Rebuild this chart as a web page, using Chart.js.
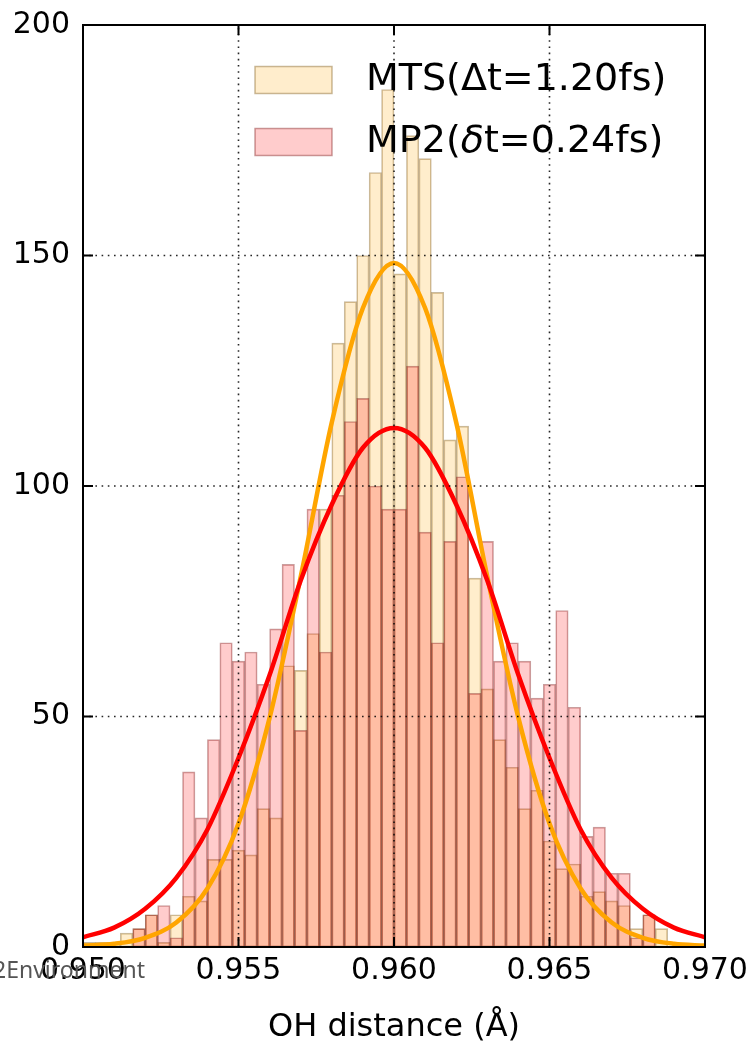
<!DOCTYPE html>
<html>
<head>
<meta charset="utf-8">
<script src="https://cdn.jsdelivr.net/npm/chart.js@4.4.0/dist/chart.umd.min.js"></script>
<style>
html,body{margin:0;padding:0;background:#fff;}
#wrap{position:relative;width:746px;height:1045px;overflow:hidden;background:#fff;}
#env{position:absolute;left:-7px;top:958px;font-family:"Noto Sans",sans-serif;font-size:23px;line-height:23px;color:#555;white-space:nowrap;}
</style>
</head>
<body>
<div id="wrap">
<canvas id="c" width="746" height="1045"></canvas>
<div id="env">2Environment</div>
</div>
<script>
// ---- data ----
const binCenters = [
  0.9502, 0.9506, 0.9510, 0.9514, 0.9518, 0.9522, 0.9526, 0.9530, 0.9534, 0.9538,
  0.9542, 0.9546, 0.9550, 0.9554, 0.9558, 0.9562, 0.9566, 0.9570, 0.9574, 0.9578,
  0.9582, 0.9586, 0.9590, 0.9594, 0.9598, 0.9602, 0.9606, 0.9610, 0.9614, 0.9618,
  0.9622, 0.9626, 0.9630, 0.9634, 0.9638, 0.9642, 0.9646, 0.9650, 0.9654, 0.9658,
  0.9662, 0.9666, 0.9670, 0.9674, 0.9678, 0.9682, 0.9686, 0.9690, 0.9694, 0.9698
];
const mtsCounts = [
  1, 1, 1, 3, 4, 7, 1, 7, 11, 10,
  19, 19, 21, 20, 30, 28, 61, 60, 68, 95,
  131, 140, 150, 168, 186, 146, 176, 171, 142, 110,
  113, 80, 56, 45, 39, 30, 34, 23, 17, 18,
  11, 12, 10, 9, 4, 7, 4, 0, 0, 0
];
const mp2Counts = [
  0, 0, 0, 0, 4, 7, 9, 2, 38, 28,
  45, 66, 62, 64, 57, 69, 83, 47, 95, 64,
  98, 114, 119, 100, 95, 95, 126, 90, 66, 88,
  102, 55, 88, 62, 66, 62, 54, 57, 73, 52,
  24, 26, 16, 16, 2, 7, 0, 0, 0, 0
];
const curveX = [0.950, 0.951, 0.952, 0.953, 0.954, 0.955, 0.956, 0.957, 0.958, 0.959, 0.960,
                0.961, 0.962, 0.963, 0.964, 0.965, 0.966, 0.967, 0.968, 0.969, 0.970];
const mtsFit = [0.3, 0.7, 2.0, 5.3, 12.7, 26.8, 49.7, 80.3, 113.8, 138.6, 148.4,
                138.6, 113.8, 80.3, 49.7, 26.8, 12.7, 5.3, 2.0, 0.7, 0.3];
const mp2Fit = [2.1, 4.2, 8.3, 15.0, 25.5, 41.0, 59.0, 79.5, 96.0, 108.3, 112.6,
                108.3, 96.0, 79.5, 59.0, 41.0, 25.5, 15.0, 8.3, 4.2, 2.1];
const xTickValues = [0.950, 0.955, 0.960, 0.965, 0.970];
const xTickLabels = ['0.950', '0.955', '0.960', '0.965', '0.970'];
const yTickValues = [0, 50, 100, 150, 200];
const yTickLabels = ['0', '50', '100', '150', '200'];
const seriesLabels = ['MTS(\u0394t=1.20fs)', 'MP2(\u03b4t=0.24fs)'];
const xTitle = 'OH distance (\u00c5)';

// ---- styles ----
const FONT = '"DejaVu Sans", sans-serif';
const mtsFill = 'rgba(255,165,0,0.2)';
const mp2Fill = 'rgba(255,0,0,0.2)';
const mtsEdge = 'rgba(113,74,0,0.38)';
const mp2Edge = 'rgba(113,0,0,0.38)';

const decor = {
  id: 'decor',
  afterDatasetsDraw(chart) {
    const {ctx, chartArea: a, scales: {x, y}} = chart;
    ctx.save();
    // dotted grid (drawn above data, like matplotlib classic)
    ctx.strokeStyle = 'rgba(0,0,0,0.85)';
    ctx.lineWidth = 1.6;
    ctx.setLineDash([1.6, 4.6]);
    xTickValues.forEach(v => {
      const px = x.getPixelForValue(v);
      if (px <= a.left + 1 || px >= a.right - 1) return;
      ctx.beginPath(); ctx.moveTo(px, a.bottom); ctx.lineTo(px, a.top); ctx.stroke();
    });
    yTickValues.forEach(v => {
      const py = y.getPixelForValue(v);
      if (py <= a.top + 1 || py >= a.bottom - 1) return;
      ctx.beginPath(); ctx.moveTo(a.left, py); ctx.lineTo(a.right, py); ctx.stroke();
    });
    ctx.setLineDash([]);
    // frame
    ctx.strokeStyle = '#000';
    ctx.lineWidth = 2;
    ctx.strokeRect(a.left, a.top, a.right - a.left, a.bottom - a.top);
    // inward ticks
    const tl = 10;
    xTickValues.forEach(v => {
      const px = x.getPixelForValue(v);
      ctx.beginPath();
      ctx.moveTo(px, a.bottom); ctx.lineTo(px, a.bottom - tl);
      ctx.moveTo(px, a.top); ctx.lineTo(px, a.top + tl);
      ctx.stroke();
    });
    yTickValues.forEach(v => {
      const py = y.getPixelForValue(v);
      ctx.beginPath();
      ctx.moveTo(a.left, py); ctx.lineTo(a.left + tl, py);
      ctx.moveTo(a.right, py); ctx.lineTo(a.right - tl, py);
      ctx.stroke();
    });
    // legend (no frame), upper right
    const items = [
      {label: chart.data.datasets[2].label, fill: mtsFill, edge: mtsEdge},
      {label: chart.data.datasets[3].label, fill: mp2Fill, edge: mp2Edge}
    ];
    const boxL = 255, boxW = 77, boxH = 27, textL = 366;
    const rowY = [80, 142];
    items.forEach((it, i) => {
      const cy = rowY[i];
      ctx.fillStyle = it.fill;
      ctx.fillRect(boxL, cy - boxH / 2, boxW, boxH);
      ctx.strokeStyle = it.edge;
      ctx.lineWidth = 1.5;
      ctx.strokeRect(boxL, cy - boxH / 2, boxW, boxH);
      ctx.fillStyle = '#000';
      ctx.textBaseline = 'middle';
      ctx.textAlign = 'left';
      let tx = textL;
      for (const ch of it.label) {
        const italic = /[\u03b1-\u03c9]/.test(ch);
        ctx.font = (italic ? 'italic ' : '') + '38px ' + FONT;
        ctx.fillText(ch, tx, cy);
        tx += ctx.measureText(ch).width;
      }
    });
    ctx.restore();
  }
};

const toPts = (xs, ys) => xs.map((v, i) => ({x: v, y: ys[i]}));

new Chart(document.getElementById('c').getContext('2d'), {
  type: 'bar',
  data: {
    datasets: [
      {type: 'line', label: 'MTS fit', data: toPts(curveX, mtsFit), borderColor: '#FFA500',
       borderWidth: 4.5, pointRadius: 0, fill: false, cubicInterpolationMode: 'monotone', order: 2},
      {type: 'line', label: 'MP2 fit', data: toPts(curveX, mp2Fit), borderColor: '#FF0000',
       borderWidth: 4.5, pointRadius: 0, fill: false, cubicInterpolationMode: 'monotone', order: 1},
      {type: 'bar', label: seriesLabels[0], data: toPts(binCenters, mtsCounts),
       backgroundColor: mtsFill, borderColor: mtsEdge, borderWidth: 1, borderSkipped: false,
       grouped: false, barPercentage: 1, categoryPercentage: 1, order: 4},
      {type: 'bar', label: seriesLabels[1], data: toPts(binCenters, mp2Counts),
       backgroundColor: mp2Fill, borderColor: mp2Edge, borderWidth: 1, borderSkipped: false,
       grouped: false, barPercentage: 1, categoryPercentage: 1, order: 3}
    ]
  },
  options: {
    responsive: false,
    animation: false,
    devicePixelRatio: 1,
    layout: {padding: {left: 0, right: 41, top: 25, bottom: 0}},
    plugins: {legend: {display: false}, tooltip: {enabled: false}},
    scales: {
      x: {
        type: 'linear', min: 0.950, max: 0.970, offset: false,
        grid: {display: false, offset: false, drawTicks: false},
        border: {display: false},
        afterBuildTicks: s => { s.ticks = xTickValues.map(v => ({value: v})); },
        ticks: {autoSkip: false, maxRotation: 0, minRotation: 0, padding: 6, color: '#000',
                font: {family: FONT, size: 30},
                callback: (v, i) => xTickLabels[i]},
        title: {display: true, text: xTitle, color: '#000',
                font: {family: FONT, size: 32, lineHeight: 1.1}, padding: {top: 0, bottom: 0}},
        afterFit: s => { s.height = 98; s.paddingLeft = 0; s.paddingRight = 0; }
      },
      y: {
        type: 'linear', min: 0, max: 200,
        grid: {display: false, drawTicks: false},
        border: {display: false},
        afterBuildTicks: s => { s.ticks = yTickValues.map(v => ({value: v})); },
        ticks: {padding: 13, color: '#000', font: {family: FONT, size: 30},
                callback: (v, i) => yTickLabels[i]},
        afterFit: s => { s.width = 83; s.paddingTop = 0; s.paddingBottom = 0; }
      }
    }
  },
  plugins: [decor]
});
</script>
</body>
</html>
